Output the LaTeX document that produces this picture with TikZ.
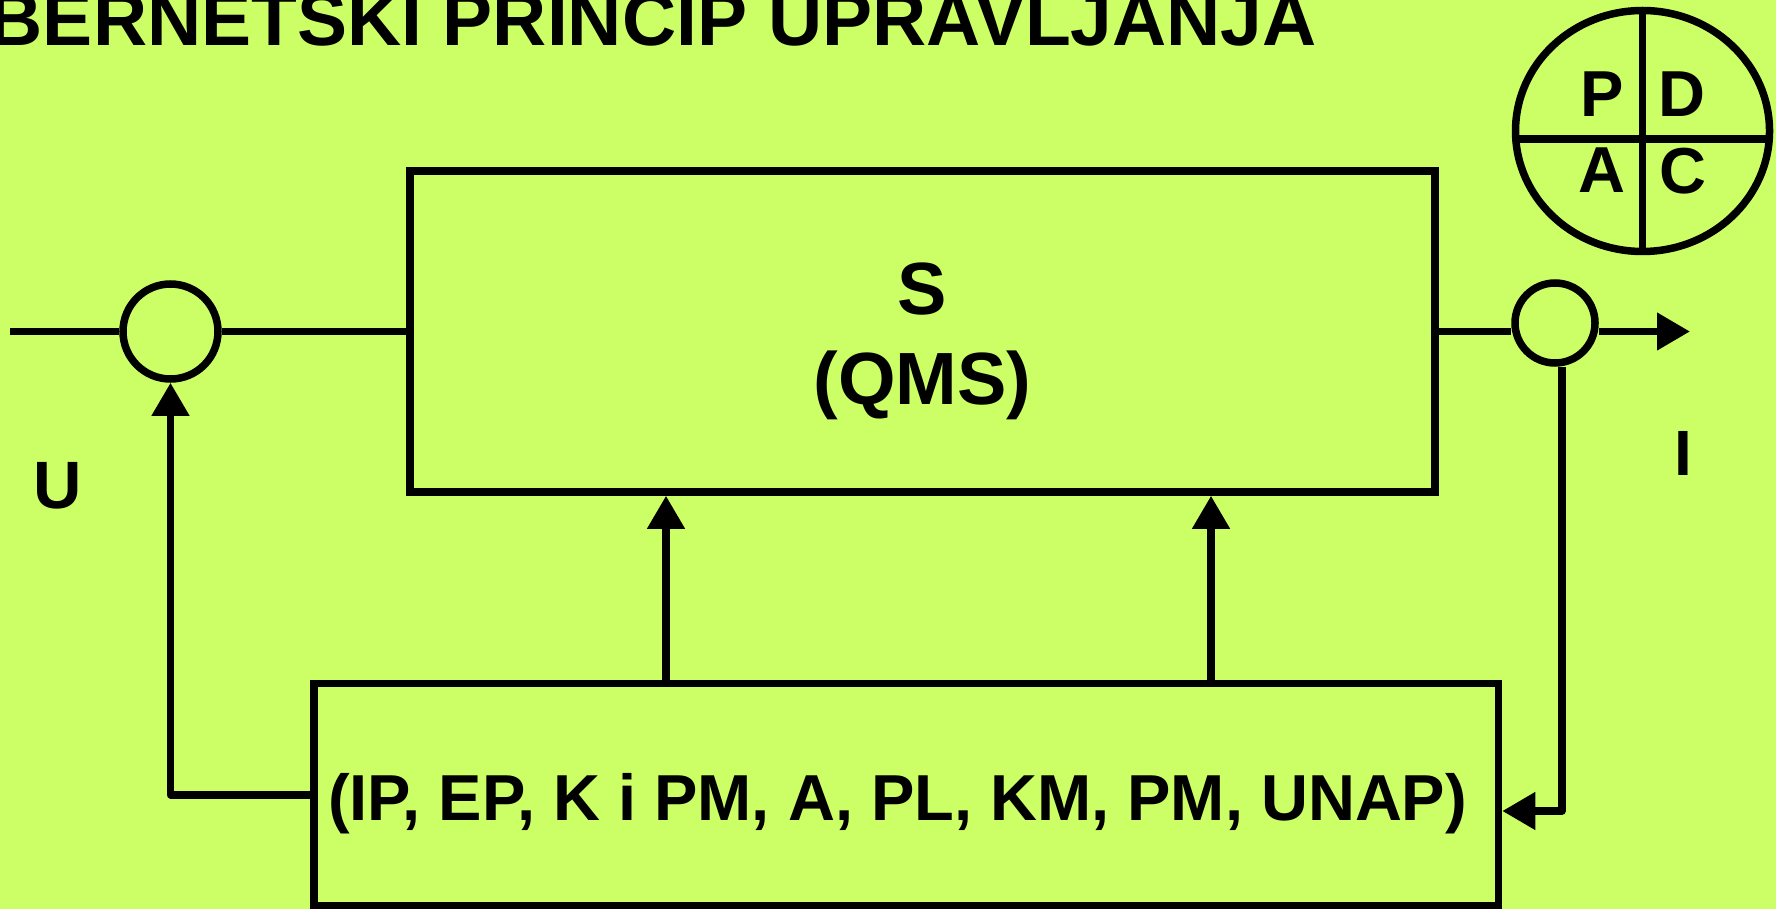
\documentclass[tikz,border=0pt]{standalone}
\usepackage{fontspec}
\setmainfont{Liberation Sans}
\usetikzlibrary{arrows.meta,shapes.geometric}
\definecolor{bg}{RGB}{204,255,102}
\tikzset{
  ln/.style={line width=7.5pt, line join=round},
  blk/.style={draw, line width=7.5pt, rectangle, inner sep=0pt},
  sumc/.style={draw, line width=7.5pt, circle, inner sep=0pt},
  arr/.style={ln, -{Triangle[length=33pt,width=36pt]}},
  txt/.style={font=\fontsize{#1}{#1}\selectfont\bfseries, inner sep=0pt, anchor=base},
}
\begin{document}
\begin{tikzpicture}[x=1pt,y=-1pt]
\fill[bg] (0,0) rectangle (1776,909);
\useasboundingbox (0,0) rectangle (1776,909);
% title
\node[txt=75, anchor=base east] (title) at (1317,46) {BERNETSKI PRINCIP UPRAVLJANJA};
% PDCA
\draw[ln] (1642.5,131) ellipse [x radius=127, y radius=120.5];
\draw[ln] (1642.5,10.5) -- (1642.5,251.5);
\draw[ln] (1515.8,139) -- (1769.2,139);
\node[txt=65] (p) at (1602,117) {P};
\node[txt=65] (d) at (1682,117) {D};
\node[txt=65] (a) at (1601.5,193) {A};
\node[txt=65] (c) at (1683,193.5) {C};
% blocks
\node[blk, minimum width=1025pt, minimum height=321pt] (S) at (922.5,331.5) {};
\node[txt=74] (st) at (922.5,314) {S};
\node[txt=74] (qt) at (922.5,404) {(QMS)};
\node[blk, minimum width=1184.5pt, minimum height=222.5pt] (B) at (906.25,794.75) {};
\node[txt=65] (bt) at (897.5,820) {(IP, EP, K i PM, A, PL, KM, PM, UNAP)};
% summing circles
\node[sumc, minimum size=95pt] (lc) at (170.5,331.5) {};
\node[sumc, minimum size=80pt] (rc) at (1555,323) {};
\coordinate (in) at (10,331.5);
\coordinate (out) at (1690,331.5);
\coordinate (fb) at (1562,811);
% labels
\node[txt=67] (u) at (58,508) {U};
\node[txt=64] (i) at (1683,475) {I};
% connectors
\draw[ln] (in) -- (lc.west);
\draw[ln] (lc.east) -- (S.west);
\draw[ln] (S.east) -- (S.east -| rc.west);
\draw[arr] (rc.east |- S.east) -- (out);
\draw[arr] (rc.south -| fb) -- (fb) -- (fb -| B.east);
\draw[arr] (B.west) -| (lc.south);
\draw[arr] ([xshift=-240.25pt]B.north) -- ([xshift=-240.25pt]B.north |- S.south);
\draw[arr] ([xshift=304.75pt]B.north) -- ([xshift=304.75pt]B.north |- S.south);
\end{tikzpicture}
\end{document}
